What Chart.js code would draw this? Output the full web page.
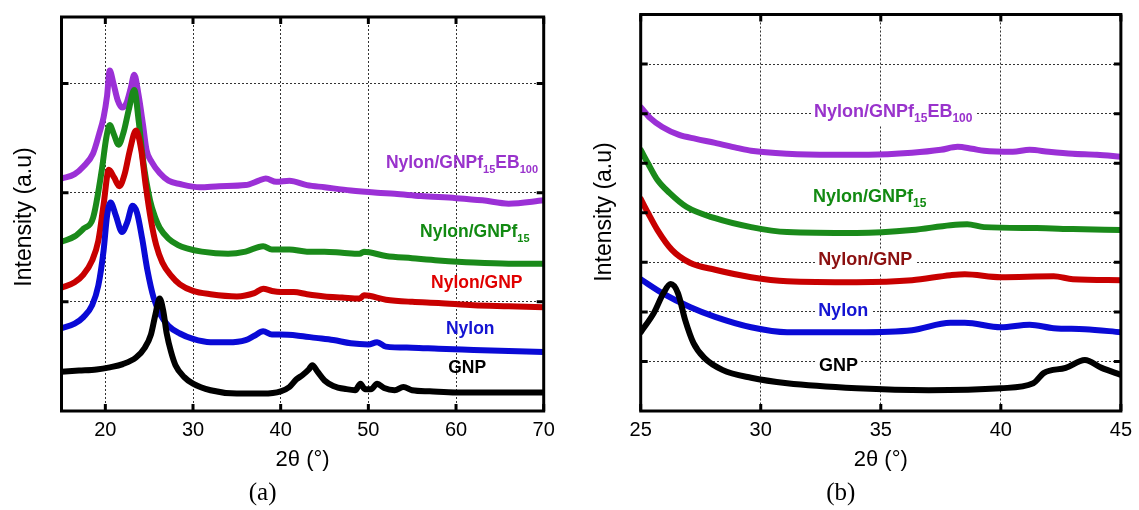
<!DOCTYPE html>
<html><head><meta charset="utf-8">
<script src="https://cdn.jsdelivr.net/npm/chart.js@4.4.1/dist/chart.umd.min.js"></script>
<style>
html,body{margin:0;padding:0;background:#fff;width:1139px;height:510px;overflow:hidden}
#ca{position:absolute;left:0;top:0}
#cb{position:absolute;left:580px;top:0}
</style></head><body>
<canvas id="ca" width="580" height="510"></canvas>
<canvas id="cb" width="559" height="510"></canvas>
<script>
// ---------- Panel (a) data: 2θ 15–70 ----------
const aGNP_x = [15,17,19,20.5,22,23.5,24.5,25.2,25.7,26.2,26.6,27.0,27.5,28,29,30,32,35,38,40,41,41.8,42.5,43.2,43.6,44.2,45,46,47.5,48.5,49.1,49.6,50.3,51,51.8,53,54,55,57,60,63,66,70];
const aGNP_y = [0.36,0.37,0.38,0.40,0.43,0.49,0.58,0.70,0.88,1.03,0.92,0.71,0.54,0.42,0.31,0.25,0.19,0.16,0.16,0.18,0.22,0.29,0.33,0.38,0.42,0.36,0.28,0.23,0.20,0.19,0.25,0.20,0.20,0.25,0.21,0.19,0.22,0.19,0.18,0.17,0.17,0.17,0.17];

const aNylon_x = [15,16.5,17.5,18.5,19.2,19.8,20.2,20.6,21.2,21.9,22.5,23.1,23.6,24.2,24.8,25.5,26.3,27.2,28.5,30,32,34,36,37,38,39,40,42,44,46,48,50,51,52,55,58,62,66,70];
const aNylon_y = [0.76,0.80,0.86,0.97,1.15,1.47,1.79,1.91,1.79,1.64,1.73,1.88,1.82,1.58,1.29,1.04,0.88,0.78,0.71,0.66,0.63,0.63,0.65,0.69,0.73,0.70,0.70,0.69,0.67,0.65,0.62,0.61,0.63,0.59,0.58,0.57,0.56,0.55,0.54];

const aNG_x = [15,16.5,17.5,18.5,19.2,19.8,20.4,21.0,21.6,22.2,22.8,23.5,24.1,24.6,25.2,25.8,26.5,27.5,28.5,30,32,35,37,38,39,40,41.5,43,45,47,49,49.5,52,55,58,62,66,70];
const aNG_y = [1.13,1.18,1.25,1.38,1.56,1.89,2.21,2.14,2.06,2.17,2.39,2.57,2.39,2.07,1.75,1.52,1.36,1.24,1.16,1.10,1.07,1.05,1.08,1.12,1.10,1.09,1.09,1.07,1.05,1.04,1.03,1.06,1.02,1.00,0.99,0.97,0.96,0.95];

const aNGf_x = [15,16.5,17.5,18.6,19.6,20.1,20.5,21.0,21.5,22.1,22.7,23.3,23.8,24.3,25.1,25.7,26.2,27.2,28.3,29.3,31,34,36,38,39,41,43,45,47,49,49.5,52,55,58,62,66,70];
const aNGf_y = [1.55,1.60,1.67,1.77,2.21,2.50,2.62,2.53,2.44,2.56,2.77,2.94,2.66,2.30,1.93,1.77,1.68,1.58,1.52,1.49,1.46,1.44,1.46,1.51,1.48,1.48,1.46,1.46,1.45,1.44,1.46,1.42,1.40,1.38,1.36,1.35,1.35];

const aEB_x = [15,16.5,17.5,18.6,19.3,19.8,20.2,20.5,20.9,21.4,21.9,22.4,22.9,23.3,23.8,24.3,24.7,25.3,26.2,27.2,28.5,30.8,33,36,37.5,38.3,39.5,41,43,45,48,51,53,56,60,63,66,70];
const aEB_y = [2.13,2.17,2.24,2.36,2.54,2.69,2.89,3.12,3.01,2.85,2.78,2.82,2.96,3.08,2.89,2.62,2.39,2.28,2.18,2.11,2.08,2.05,2.06,2.07,2.11,2.13,2.10,2.11,2.07,2.05,2.02,2.00,1.99,1.97,1.95,1.93,1.90,1.93];

// ---------- Panel (b) data: 2θ 25–45 ----------
const bGNP_x = [25,25.55,25.95,26.25,26.55,26.85,27.2,27.65,28.4,29.6,31.1,34,37,40,41.35,41.8,42.7,43.5,44.2,45];
const bGNP_y = [1.59,1.98,2.38,2.56,2.38,1.84,1.37,1.07,0.83,0.67,0.56,0.46,0.42,0.46,0.56,0.77,0.87,1.03,0.87,0.73];

const bNylon_x = [25,25.9,27.05,28.1,29.6,31.1,34,36.3,37.9,38.5,40,41.2,42.2,43.5,45];
const bNylon_y = [2.66,2.38,2.10,1.90,1.69,1.59,1.59,1.63,1.78,1.78,1.69,1.74,1.67,1.65,1.59];

const bNG_x = [25,25.3,25.7,26.3,27.05,28.1,29.6,31.1,34,36.3,37.9,38.5,40,42.2,43,45];
const bNG_y = [4.28,4.00,3.65,3.25,2.99,2.85,2.70,2.62,2.60,2.64,2.74,2.76,2.70,2.72,2.66,2.64];

const bNGf_x = [25,25.3,25.7,26.2,26.9,28.1,29.6,31.1,34,36.3,37.9,38.6,39.3,41.5,43,45];
const bNGf_y = [5.27,5.00,4.66,4.40,4.12,3.89,3.71,3.61,3.59,3.65,3.75,3.77,3.71,3.69,3.67,3.65];

const bEB_x = [25,25.4,25.9,26.6,27.3,28.1,29.0,29.6,31.1,33,34.5,36.3,37.5,38.2,38.8,39.3,40.5,41.2,42,43,44,45];
const bEB_y = [6.13,5.91,5.73,5.57,5.49,5.41,5.31,5.25,5.19,5.17,5.17,5.21,5.27,5.33,5.29,5.25,5.23,5.27,5.23,5.19,5.17,5.13];

// ---------- ticks ----------
const xTicksA = [20,30,40,50,60,70];
const yTicksA = [1,2,3];
const xTicksB = [25,30,35,40,45];
const yTicksB = [1,2,3,4,5,6,7];

const seriesNames = ['GNP','Nylon','Nylon/GNP','Nylon/GNPf15','Nylon/GNPf15EB100'];
const lineColors = ['#000000','#0a0ad6','#c80000','#1a8a1a','#9b30d6'];

// labels (data coordinates)
const labelsA = [
  {parts:[['Nylon/GNPf'],['15',1],['EB'],['100',1]], x:52.0, y:2.27, color:'#9933cc'},
  {parts:[['Nylon/GNPf'],['15',1]], x:55.9, y:1.64, color:'#128a12'},
  {parts:[['Nylon/GNP']], x:57.15, y:1.17, color:'#e00000'},
  {parts:[['Nylon']], x:58.85, y:0.75, color:'#1414d2'},
  {parts:[['GNP']], x:59.1, y:0.39, color:'#000000'}
];
const labelsB = [
  {parts:[['Nylon/GNPf'],['15',1],['EB'],['100',1]], x:32.22, y:6.03, color:'#9933cc'},
  {parts:[['Nylon/GNPf'],['15',1]], x:32.18, y:4.32, color:'#128a12'},
  {parts:[['Nylon/GNP']], x:32.39, y:3.05, color:'#8b1010'},
  {parts:[['Nylon']], x:32.39, y:2.02, color:'#1414d2'},
  {parts:[['GNP']], x:32.43, y:0.91, color:'#000000'}
];

const FONT = "'Liberation Sans', Arial, sans-serif";

function pts(xs, ys){ return xs.map((x,i)=>({x:x, y:ys[i]})); }

function makeDatasets(list){
  return list.map((d,i)=>({
    label: seriesNames[i], data: pts(d[0], d[1]),
    borderColor: lineColors[i], backgroundColor: lineColors[i],
    borderWidth: 6, pointRadius: 0, cubicInterpolationMode:'monotone', fill:false,
    borderJoinStyle:'round', borderCapStyle:'round'
  }));
}

function drawRich(ctx, parts, x, y, color, bg, size){
  const mainF = "bold " + size + "px " + FONT, subF = "bold " + Math.round(size*0.64) + "px " + FONT;
  let w = 0;
  parts.forEach(p=>{ ctx.font = p[1] ? subF : mainF; w += ctx.measureText(p[0]).width; });
  if (bg){ ctx.fillStyle = '#fff'; ctx.fillRect(x-3, y-11, w+6, 24); }
  ctx.fillStyle = color; ctx.textBaseline = 'middle'; ctx.textAlign = 'left';
  let cx = x;
  parts.forEach(p=>{
    ctx.font = p[1] ? subF : mainF;
    ctx.fillText(p[0], cx, p[1] ? y+7 : y);
    cx += ctx.measureText(p[0]).width;
  });
}

function decorPlugin(opts){
  return {
    id:'decor',
    afterDatasetsDraw(chart){
      const ctx = chart.ctx, ca = chart.chartArea;
      const xs = chart.scales.x, ys = chart.scales.y;
      ctx.save();
      opts.labels.forEach(l=>{
        drawRich(ctx, l.parts, xs.getPixelForValue(l.x), ys.getPixelForValue(l.y), l.color, opts.bg, opts.fs);
      });
      ctx.strokeStyle = '#000'; ctx.lineWidth = 3;
      ctx.strokeRect(ca.left, ca.top, ca.right-ca.left, ca.bottom-ca.top);
      const tl = 7;
      ctx.beginPath();
      opts.xt.forEach(v=>{
        const px = xs.getPixelForValue(v);
        ctx.moveTo(px, ca.bottom); ctx.lineTo(px, ca.bottom - tl);
        ctx.moveTo(px, ca.top); ctx.lineTo(px, ca.top + tl);
      });
      opts.yt.forEach(v=>{
        const py = ys.getPixelForValue(v);
        ctx.moveTo(ca.left, py); ctx.lineTo(ca.left + tl, py);
        ctx.moveTo(ca.right, py); ctx.lineTo(ca.right - tl, py);
      });
      ctx.stroke();
      ctx.fillStyle = '#000';
      ctx.font = "22px " + FONT; ctx.textAlign = 'center'; ctx.textBaseline = 'middle';
      const cx = (ca.left + ca.right)/2;
      ctx.fillText('2\u03b8 (\u00b0)', cx, 460);
      ctx.save();
      ctx.font = "23px " + FONT;
      ctx.translate(25, opts.ytY); ctx.rotate(-Math.PI/2);
      ctx.fillText('Intensity (a.u)', 0, 0);
      ctx.restore();
      ctx.font = "25px 'Liberation Serif', 'Times New Roman', serif";
      ctx.fillText(opts.letter, cx - 40, 493);
      ctx.restore();
    }
  };
}

function makeChart(id, datasets, xmin, xmax, ymax, xt, yt, padding, yWidth, labels, bg, letter, ytY, fs){
  return new Chart(document.getElementById(id), {
    type:'line',
    data:{datasets: datasets},
    options:{
      responsive:false, animation:false, devicePixelRatio:1,
      layout:{padding: padding},
      plugins:{legend:{display:false}, tooltip:{enabled:false}},
      scales:{
        x:{type:'linear', min:xmin, max:xmax,
           afterBuildTicks: s=>{ s.ticks = xt.map(v=>({value:v})); },
           afterFit: s=>{ s.height = 99; },
           grid:{color:'#333', lineWidth:1, drawTicks:false},
           border:{display:false, dash:[2,2]},
           ticks:{color:'#000', padding:7, maxRotation:0, font:{family:FONT, size:20}}},
        y:{type:'linear', min:0, max:ymax,
           afterBuildTicks: s=>{ s.ticks = yt.map(v=>({value:v})); },
           afterFit: s=>{ s.width = yWidth; },
           grid:{color:'#333', lineWidth:1, drawTicks:false},
           border:{display:false, dash:[2,2]},
           ticks:{display:false}}
      }
    },
    plugins:[decorPlugin({labels:labels, bg:bg, xt:xt, yt:yt, letter:letter, ytY:ytY, fs:fs})]
  });
}

makeChart('ca', makeDatasets([[aGNP_x,aGNP_y],[aNylon_x,aNylon_y],[aNG_x,aNG_y],[aNGf_x,aNGf_y],[aEB_x,aEB_y]]),
  15, 70, 3.61, xTicksA, yTicksA, {top:17, right:36.3, left:0, bottom:0}, 61.5, labelsA, false, '(a)', 217, 17.5);
makeChart('cb', makeDatasets([[bGNP_x,bGNP_y],[bNylon_x,bNylon_y],[bNG_x,bNG_y],[bNGf_x,bNGf_y],[bEB_x,bEB_y]]),
  25, 45, 8, xTicksB, yTicksB, {top:14.5, right:13, left:0, bottom:0}, 60.7, labelsB, true, '(b)', 212, 18);
</script>
</body></html>
